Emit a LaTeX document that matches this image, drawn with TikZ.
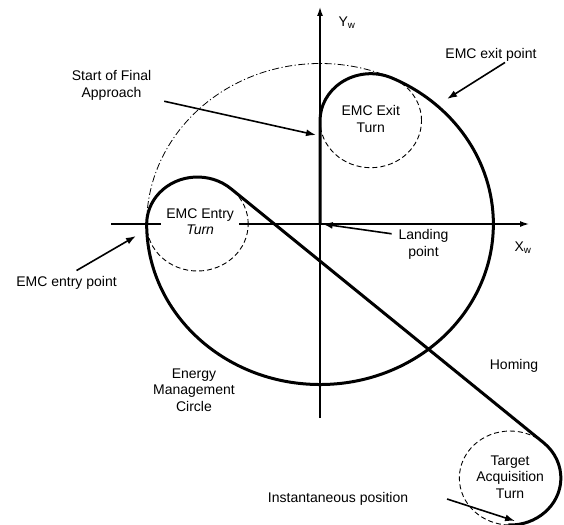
\documentclass[tikz,border=0pt]{standalone}
\usepackage{fontspec}
\setmainfont{Liberation Sans}
\usetikzlibrary{arrows.meta}

\tikzset{
  route/.style={line width=3pt, line join=round},
  turn/.style={line width=0.9pt, dash pattern=on 5pt off 3pt},
  emc/.style={line width=0.8pt, dash pattern=on 7pt off 2.5pt on 1.2pt off 2.5pt},
  axis/.style={line width=1.3pt, -{Latex[length=9pt,width=6pt]}},
  pointer/.style={line width=1.6pt, -{Latex[length=10pt,width=7pt]}},
  lbl/.style={inner sep=0.75pt, align=center, font=\fontsize{14}{16.5}\selectfont},
}

\begin{document}
\begin{tikzpicture}[x=1.08pt, y=1pt]
\useasboundingbox (-296.3,-300) rectangle (225.9,224);
%Axes
\draw[axis] (-193.5,0) -- (193.5,0);
\draw[axis] (0,-194) -- (0,217);
%Circles
\draw[emc] (0,0) circle (160.5);
\draw[turn] (-113.5,0) circle (47);
\draw[turn] (47,103.31) circle (47);
\draw[turn] (176,-254) circle (47);
%Trajectory
\draw[route] ([shift={(-92:47)}]176,-254) arc (-92:48.74:47) -- (-82.5,35.32) arc (48.74:180:47) arc (180:425.54:160.5) arc (65.54:180:47) -- (0,0);
%Points
\coordinate (fa) at (-3.7,89);
\coordinate (land) at (2.5,0);
\coordinate (exitpt) at (117.6,125);
\coordinate (entrypt) at (-170.4,-12);
\coordinate (inst) at (180.6,-297);
%Text
\draw (25,201) node (yw) [lbl] {Y\textsubscript{w}};
\draw (188,-24) node (xw) [lbl] {X\textsubscript{w}};
\draw (158.3,169) node (exitlbl) [lbl] {EMC exit point};
\draw (-193,138.5) node (sfa) [lbl] {Start of Final\\Approach};
\draw (47,105) node (exitturn) [lbl] {EMC Exit\\Turn};
\draw (-111,2.5) node (entryturn) [lbl, fill=white, inner xsep=5pt, inner ysep=1pt] {EMC Entry\\\textit{Turn}};
\draw (95.8,-20.5) node (ldg) [lbl] {Landing\\point};
\draw (-234.7,-59) node (entrylbl) [lbl] {EMC entry point};
\draw (-116.7,-166) node (emclbl) [lbl] {Energy\\Management\\Circle};
\draw (179.6,-142) node (homing) [lbl] {Homing};
\draw (176,-253) node (tat) [lbl] {Target\\Acquisition\\Turn};
\draw (16.7,-275) node (instlbl) [lbl] {Instantaneous position};
%Pointers
\draw[pointer] ([xshift=14pt]exitlbl.south) -- (exitpt);
\draw[pointer] ([xshift=12pt]sfa.south east) -- (fa);
\draw[pointer] ([xshift=-6pt,yshift=-5pt]ldg.north west) -- (land);
\draw[pointer] ([xshift=10pt,yshift=5pt]entrylbl.north) -- (entrypt);
\draw[pointer] ([xshift=38pt]instlbl.east) -- (inst);
\end{tikzpicture}
\end{document}
